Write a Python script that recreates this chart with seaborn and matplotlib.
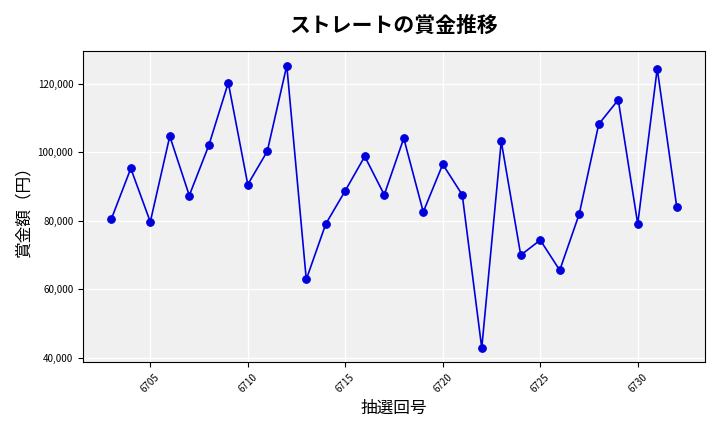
import matplotlib
matplotlib.use("Agg")
import matplotlib.pyplot as plt
import seaborn as sns
import pandas as pd
from matplotlib.ticker import FuncFormatter

plt.rcParams["font.family"] = "Noto Sans CJK JP"

draws = list(range(6703, 6733))
prizes = [80500, 95300, 79700, 104700, 87400, 102000, 120300, 90600, 100300, 125300,
          62900, 79100, 88800, 98800, 87600, 104100, 82600, 96500, 87600, 42900,
          103200, 70000, 74400, 65600, 82000, 108200, 115300, 79100, 124400, 84100]

df = pd.DataFrame({"draw": draws, "prize": prizes})

fig, ax = plt.subplots(figsize=(7.2, 4.32), dpi=100)
ax.set_facecolor("#f0f0f0")
ax.grid(True, color="white", linewidth=1)
ax.set_axisbelow(True)
sns.lineplot(data=df, x="draw", y="prize", color="#0000dd", marker="o",
             markersize=5.5, markeredgecolor="#0000dd", linewidth=1.2, ax=ax)
ax.set_title("ストレートの賞金推移", fontsize=15, fontweight="bold", pad=14)
ax.set_xlabel("抽選回号", fontsize=12)
ax.set_ylabel("賞金額（円）", fontsize=12)
ax.yaxis.set_major_formatter(FuncFormatter(lambda v, p: f"{int(v):,}"))
ax.set_xticks([6705, 6710, 6715, 6720, 6725, 6730])
ax.tick_params(axis="x", labelrotation=45, labelsize=7)
ax.tick_params(axis="y", labelsize=7)
fig.tight_layout()
fig.savefig("out.png", dpi=100)
